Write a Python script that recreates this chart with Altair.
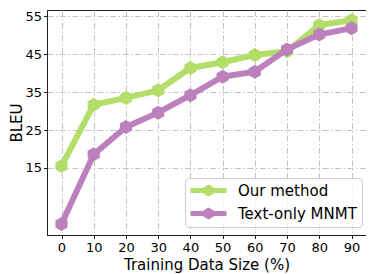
import altair as alt
import pandas as pd

sizes = [0, 10, 20, 30, 40, 50, 60, 70, 80, 90]
series_names = ["Our method", "Text-only MNMT"]
our_method = [15.5, 31.7, 33.5, 35.5, 41.4, 42.9, 44.8, 45.8, 52.7, 54.0]
text_only = [0.2, 18.6, 25.8, 29.6, 34.2, 39.1, 40.4, 46.3, 50.2, 51.9]
colors = ["#b3de69", "#bc80bd"]
x_ticks = [0, 10, 20, 30, 40, 50, 60, 70, 80, 90]
y_ticks = [15, 25, 35, 45, 55]

df = pd.DataFrame({
    "size": sizes * 2,
    "bleu": our_method + text_only,
    "series": [series_names[0]] * len(sizes) + [series_names[1]] * len(sizes),
})

FONT = "DejaVu Sans"
HEX = "M0,-1L0.866,-0.5L0.866,0.5L0,1L-0.866,0.5L-0.866,-0.5Z"
LEGEND_SYM = "M-3,-0.42L3,-0.42L3,0.42L-3,0.42Z" + HEX

x = alt.X("size:Q",
          scale=alt.Scale(domain=[-4.5, 94.5], nice=False, zero=False),
          axis=alt.Axis(values=x_ticks, title="Training Data Size (%)"))
y = alt.Y("bleu:Q",
          scale=alt.Scale(domain=[-2.7, 56.7], nice=False, zero=False),
          axis=alt.Axis(values=y_ticks, title="BLEU", labelPadding=2, titlePadding=0))
color_scale = alt.Scale(domain=series_names, range=colors)

base = alt.Chart(df)
layers = []
for name in series_names:
    sub = base.transform_filter(alt.datum.series == name)
    layers.append(sub.mark_line(strokeWidth=6).encode(
        x=x, y=y, color=alt.Color("series:N", scale=color_scale, legend=None)))
    layers.append(sub.mark_point(shape=HEX, size=196, filled=True, opacity=1).encode(
        x=x, y=y, color=alt.Color("series:N", scale=color_scale, legend=None)))

carrier = base.mark_point(shape=LEGEND_SYM, size=144, filled=True, opacity=0).encode(
    x=x, y=y,
    color=alt.Color("series:N", scale=color_scale,
                    legend=alt.Legend(title=None, orient="none", legendX=138, legendY=168,
                                      padding=5, cornerRadius=4,
                                      strokeColor="#cccccc", fillColor="rgba(255,255,255,0.8)",
                                      symbolOpacity=1, symbolStrokeWidth=0, symbolSize=144,
                                      symbolOffset=11, labelOffset=22, rowPadding=7,
                                      labelFont=FONT, labelFontSize=15, labelColor="#000000")))

chart = alt.layer(*layers, carrier).resolve_legend(color="independent").properties(
    width=319, height=225,
    autosize=alt.AutoSizeParams(type="none"),
    padding={"left": 39, "top": 2, "right": 0, "bottom": 39},
).configure_view(
    stroke="#222222", strokeWidth=1
).configure_axis(
    labelFont=FONT, labelFontSize=13, labelColor="#000000",
    titleFont=FONT, titleFontSize=15, titleFontWeight="normal", titleColor="#000000",
    tickSize=3.5, tickColor="#222222", domainColor="#222222", labelPadding=3,
    grid=True, gridColor="#c4c4c4", gridDash=[6, 2.5, 1.5, 2.5], gridWidth=1,
).configure_axisX(titlePadding=3)

chart.save("out.html", embed_options={"renderer": "svg", "actions": False})
